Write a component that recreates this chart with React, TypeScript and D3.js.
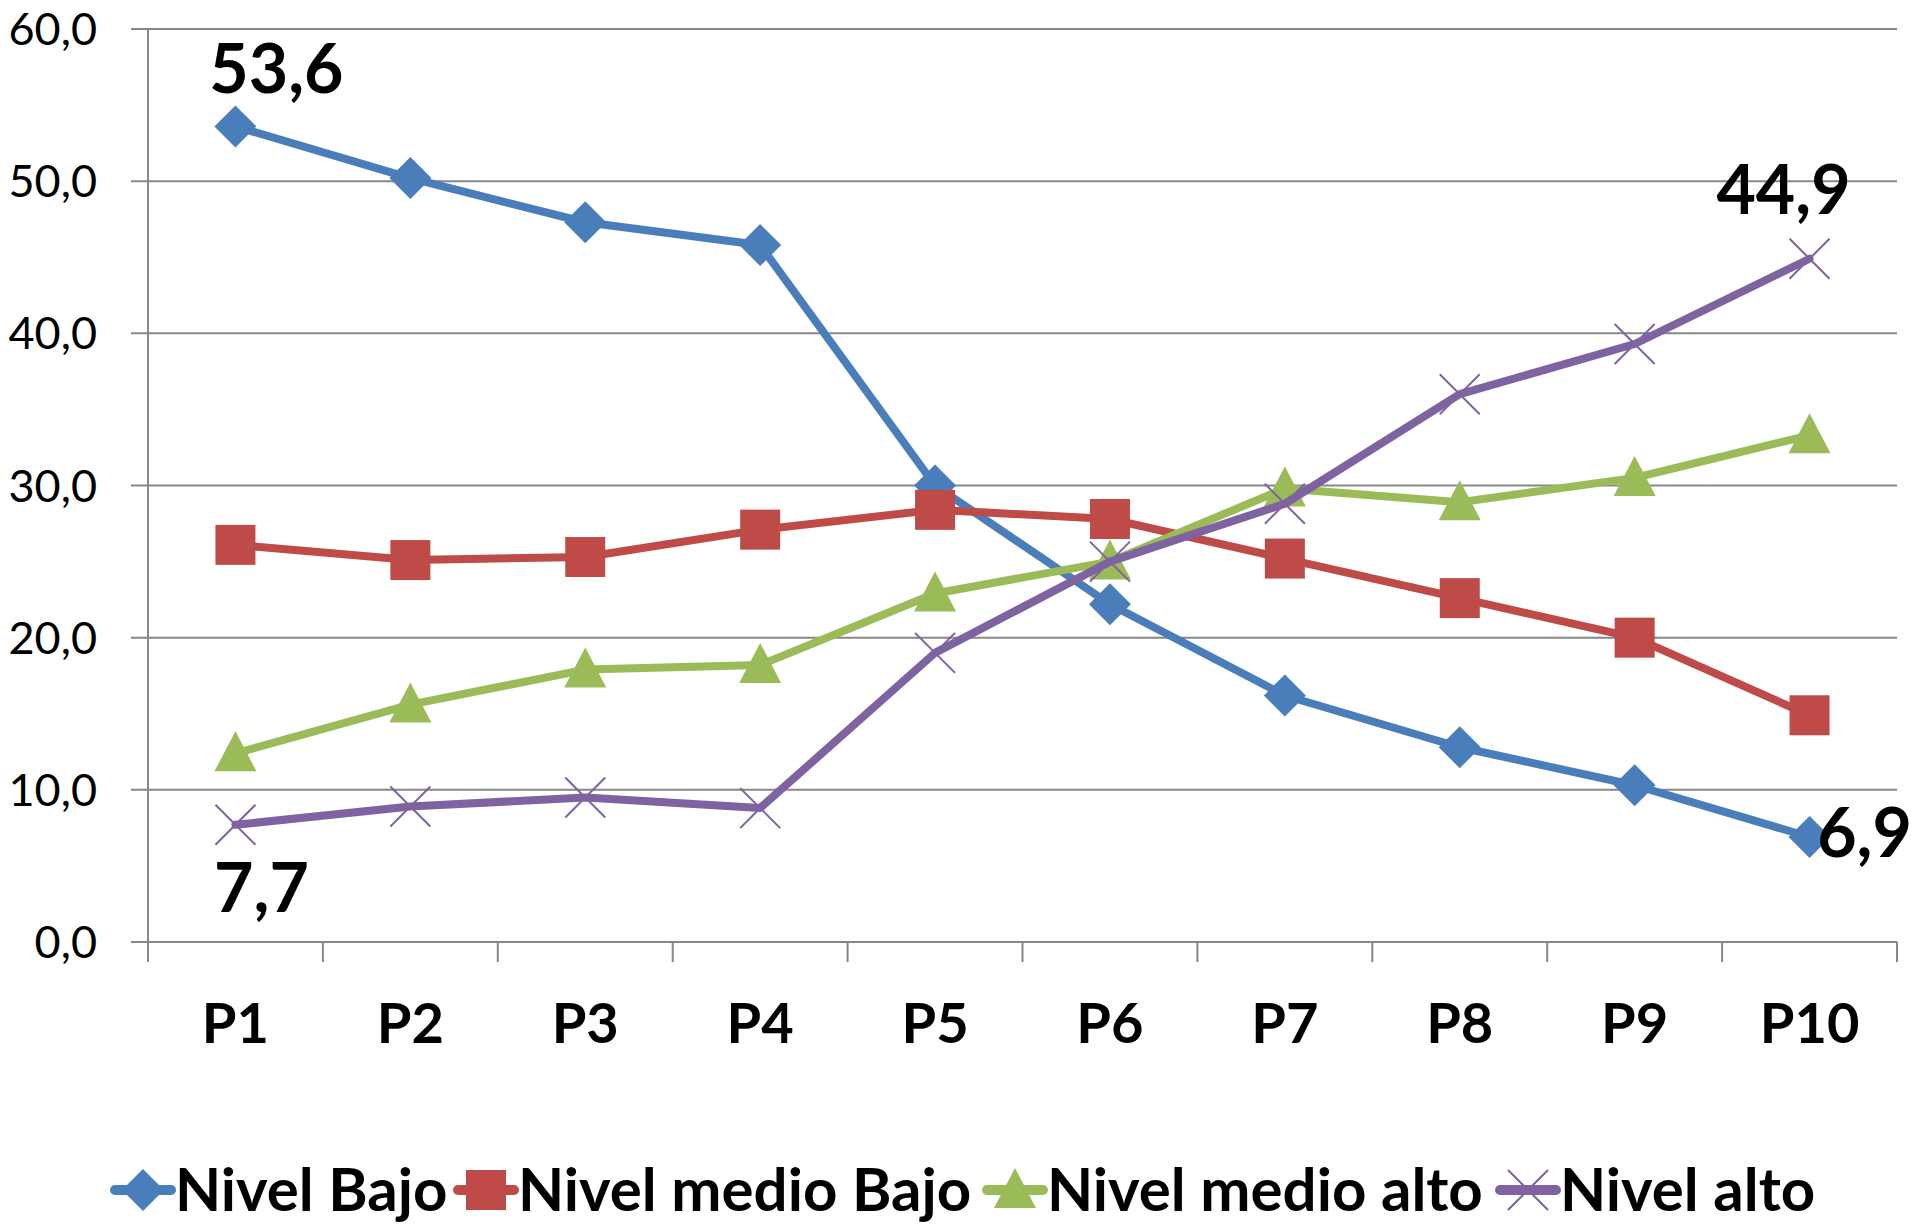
import React, { useEffect, useRef } from "react";
import * as d3 from "d3";

const categories = ["P1", "P2", "P3", "P4", "P5", "P6", "P7", "P8", "P9", "P10"];
const nivelBajo = [53.6, 50.2, 47.3, 45.8, 30.0, 22.2, 16.2, 12.8, 10.3, 6.9];
const nivelMedioBajo = [26.1, 25.1, 25.3, 27.1, 28.4, 27.8, 25.2, 22.6, 20.0, 14.9];
const nivelMedioAlto = [12.4, 15.6, 17.9, 18.2, 22.9, 25.0, 29.8, 28.9, 30.5, 33.3];
const nivelAlto = [7.7, 8.9, 9.5, 8.8, 19.0, 25.0, 28.8, 36.0, 39.3, 44.9];
const yTicks = [0, 10, 20, 30, 40, 50, 60];

const W = 1915;
const H = 1224;
const FONT = "Lato, 'Open Sans', sans-serif";

const series = [
  { name: "Nivel Bajo", values: nivelBajo, color: "#4A7EBB", marker: "diamond" },
  { name: "Nivel medio Bajo", values: nivelMedioBajo, color: "#BE4B48", marker: "square" },
  { name: "Nivel medio alto", values: nivelMedioAlto, color: "#9BBB59", marker: "triangle" },
  { name: "Nivel alto", values: nivelAlto, color: "#7F63A1", marker: "cross" },
];

// labels shown on the chart: series index, category index, offset
const dataLabels = [
  { s: 0, i: 0, dx: 41, dy: -33 },
  { s: 3, i: 0, dx: 26, dy: 87 },
  { s: 3, i: 9, dx: -26, dy: -45 },
  { s: 0, i: 9, dx: 55, dy: 20 },
];

const legendX = [143, 486, 1015, 1528];

const fmt = (v: number) => v.toFixed(1).replace(".", ",");

function drawMarker(g: any, type: string, x: number, y: number, color: string) {
  if (type === "diamond") {
    const r = 21;
    g.append("path")
      .attr("d", `M${x},${y - r}L${x + r},${y}L${x},${y + r}L${x - r},${y}Z`)
      .attr("fill", color);
  } else if (type === "square") {
    g.append("rect")
      .attr("x", x - 20).attr("y", y - 20)
      .attr("width", 40).attr("height", 40)
      .attr("fill", color);
  } else if (type === "triangle") {
    g.append("path")
      .attr("d", `M${x},${y - 22}L${x + 21},${y + 18}L${x - 21},${y + 18}Z`)
      .attr("fill", color);
  } else {
    const r = 20;
    g.append("path")
      .attr("d", `M${x - r},${y - r}L${x + r},${y + r}M${x - r},${y + r}L${x + r},${y - r}`)
      .attr("stroke", color)
      .attr("stroke-width", 2)
      .attr("fill", "none");
  }
}

export default function App() {
  const ref = useRef<SVGSVGElement>(null);

  useEffect(() => {
    const svg = d3.select(ref.current);
    svg.selectAll("*").remove();

    const left = 148;
    const right = 1897;
    const top = 29;
    const bottom = 942;

    const x = d3.scaleBand().domain(categories).range([left, right]);
    const y = d3.scaleLinear().domain([0, 60]).range([bottom, top]);
    const cx = (c: string) => (x(c) as number) + x.bandwidth() / 2;

    // gridlines
    svg.append("g")
      .selectAll("line")
      .data(yTicks)
      .join("line")
      .attr("x1", left - 17)
      .attr("x2", right)
      .attr("y1", (d) => y(d))
      .attr("y2", (d) => y(d))
      .attr("stroke", "#878787")
      .attr("stroke-width", 2);

    // y axis line
    svg.append("line")
      .attr("x1", left).attr("x2", left)
      .attr("y1", top).attr("y2", bottom + 20)
      .attr("stroke", "#878787").attr("stroke-width", 2);

    // category ticks
    const bounds = categories.map((c) => x(c) as number).concat([right]);
    svg.append("g")
      .selectAll("line")
      .data(bounds)
      .join("line")
      .attr("x1", (d) => d).attr("x2", (d) => d)
      .attr("y1", bottom).attr("y2", bottom + 20)
      .attr("stroke", "#878787").attr("stroke-width", 2);

    // y labels
    svg.append("g")
      .selectAll("text")
      .data(yTicks)
      .join("text")
      .attr("x", 97)
      .attr("y", (d) => y(d) + 16)
      .attr("text-anchor", "end")
      .attr("font-family", FONT)
      .attr("font-size", 45)
      .attr("fill", "#000")
      .text((d) => fmt(d));

    // category labels
    svg.append("g")
      .selectAll("text")
      .data(categories)
      .join("text")
      .attr("x", (d) => cx(d))
      .attr("y", 1043)
      .attr("text-anchor", "middle")
      .attr("font-family", FONT)
      .attr("font-weight", 700)
      .attr("font-size", 56)
      .attr("fill", "#000")
      .text((d) => d);

    const line = d3.line<number>()
      .x((_, i) => cx(categories[i]))
      .y((d) => y(d));

    series.forEach((s) => {
      const g = svg.append("g");
      g.append("path")
        .attr("d", line(s.values))
        .attr("fill", "none")
        .attr("stroke", s.color)
        .attr("stroke-width", 8)
        .attr("stroke-linejoin", "round")
        .attr("stroke-linecap", "round");
      s.values.forEach((v, i) => drawMarker(g, s.marker, cx(categories[i]), y(v), s.color));
    });

    // data labels
    svg.append("g")
      .selectAll("text")
      .data(dataLabels)
      .join("text")
      .attr("x", (d) => cx(categories[d.i]) + d.dx)
      .attr("y", (d) => y(series[d.s].values[d.i]) + d.dy)
      .attr("text-anchor", "middle")
      .attr("font-family", FONT)
      .attr("font-weight", 700)
      .attr("font-size", 68)
      .attr("fill", "#000")
      .text((d) => fmt(series[d.s].values[d.i]));

    // legend
    const ly = 1190;
    series.forEach((s, k) => {
      const mx = legendX[k];
      const g = svg.append("g");
      g.append("line")
        .attr("x1", mx - 28).attr("x2", mx + 28)
        .attr("y1", ly).attr("y2", ly)
        .attr("stroke", s.color).attr("stroke-width", 10)
        .attr("stroke-linecap", "round");
      drawMarker(g, s.marker, mx, ly, s.color);
      g.append("text")
        .attr("x", mx + 32)
        .attr("y", 1211)
        .attr("font-family", FONT)
        .attr("font-weight", 700)
        .attr("font-size", 60)
        .attr("fill", "#000")
        .text(s.name);
    });
  }, []);

  return (
    <svg
      ref={ref}
      width={W}
      height={H}
      style={{ position: "absolute", left: 0, top: 0, display: "block", background: "#fff" }}
    />
  );
}
